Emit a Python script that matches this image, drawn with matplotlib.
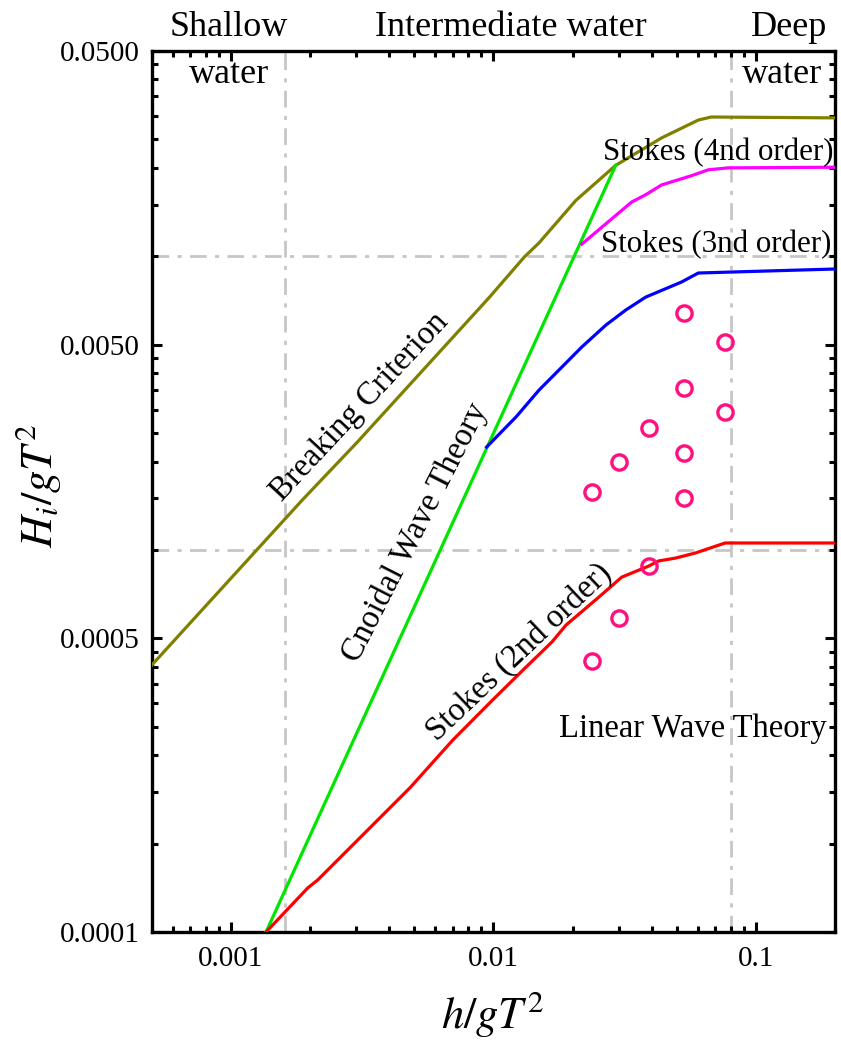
import matplotlib
matplotlib.use('Agg')
import matplotlib.pyplot as plt
from matplotlib.ticker import FixedLocator, LogLocator, NullFormatter

plt.rcParams['font.family'] = ['Liberation Serif', 'DejaVu Serif']
plt.rcParams['mathtext.fontset'] = 'stix'

# --- data (h/gT^2, H/gT^2) ---
breaking_x = [0.0005, 0.00187, 0.00303, 0.00966, 0.0131, 0.0149, 0.0206, 0.0292, 0.0437, 0.0603, 0.0675, 0.2]
breaking_y = [4.06e-4, 1.48e-3, 2.33e-3, 7.26e-3, 9.94e-3, 0.0111, 0.0155, 0.0204, 0.0253, 0.0291, 0.0298, 0.0296]

cnoidal_x = [0.00136, 0.0292]
cnoidal_y = [5.0e-5, 0.0204]

stokes2_x = [0.00136, 0.00196, 0.00214, 0.00311, 0.00481, 0.00699, 0.00991, 0.0133, 0.0167, 0.0189,
             0.0252, 0.0308, 0.0390, 0.0425, 0.0493, 0.0587, 0.0763, 0.0855, 0.2]
stokes2_y = [5.0e-5, 7.06e-5, 7.52e-5, 1.05e-4, 1.55e-4, 2.25e-4, 3.08e-4, 3.99e-4, 4.86e-4, 5.55e-4,
             6.91e-4, 8.08e-4, 8.81e-4, 9.17e-4, 9.38e-4, 9.76e-4, 1.056e-3, 1.056e-3, 1.056e-3]

stokes3_x = [0.00941, 0.0122, 0.0149, 0.0217, 0.0268, 0.0319, 0.0380, 0.0520, 0.0603, 0.2]
stokes3_y = [2.24e-3, 2.84e-3, 3.50e-3, 4.91e-3, 5.83e-3, 6.56e-3, 7.26e-3, 8.17e-3, 8.77e-3, 9.05e-3]

stokes4_x = [0.0217, 0.0336, 0.0380, 0.0437, 0.0567, 0.0658, 0.0783, 0.2]
stokes4_y = [0.0110, 0.0153, 0.0162, 0.0175, 0.0188, 0.0197, 0.0200, 0.0201]

exp_x = [0.0534, 0.0763, 0.0534, 0.0763, 0.0390, 0.0534, 0.0300, 0.0237, 0.0534, 0.0390, 0.0300, 0.0237]
exp_y = [6.41e-3, 5.10e-3, 3.56e-3, 2.95e-3, 2.60e-3, 2.14e-3, 1.99e-3, 1.57e-3, 1.50e-3, 8.81e-4, 5.86e-4, 4.18e-4]

ytick_vals = [5e-5, 5e-4, 5e-3, 5e-2]
ytick_labels = ['0.0001', '0.0005', '0.0050', '0.0500']
xtick_vals = [1e-3, 1e-2, 1e-1]
xtick_labels = ['0.001', '0.01', '0.1']

fig = plt.figure(figsize=(8.41, 10.41), dpi=100)
ax = fig.add_axes([0.1807, 0.1047, 0.8122, 0.8463])
ax.set_xscale('log')
ax.set_yscale('log')
ax.set_xlim(0.0005, 0.2)
ax.set_ylim(5e-5, 5e-2)

# grid lines for the water depth regions
grid_style = dict(color='#c6c6c6', lw=2.0, ls=(0, (6, 3, 1.5, 3)), zorder=1)
ax.axvline(0.0016, **grid_style)
ax.axvline(0.08, **grid_style)
ax.axhline(0.001, **grid_style)
ax.axhline(0.01, **grid_style)

lw = 2.3
ax.plot(breaking_x, breaking_y, color='#808000', lw=lw, zorder=3)
ax.plot(cnoidal_x, cnoidal_y, color='#00e600', lw=lw, zorder=3)
ax.plot(stokes2_x, stokes2_y, color='#ff0000', lw=lw, zorder=3)
ax.plot(stokes3_x, stokes3_y, color='#0000ff', lw=lw, zorder=3)
ax.plot(stokes4_x, stokes4_y, color='#ff00ff', lw=lw, zorder=3)
ax.plot(exp_x, exp_y, ls='none', marker='o', ms=11, mfc='none', mec='#ff1080', mew=2.4, zorder=4)

# axes styling
for s in ax.spines.values():
    s.set_linewidth(2.4)
ax.xaxis.set_major_locator(FixedLocator(xtick_vals))
ax.set_xticklabels(xtick_labels)
ax.xaxis.set_minor_locator(LogLocator(base=10, subs=[2, 3, 4, 5, 6, 7, 8, 9]))
ax.xaxis.set_minor_formatter(NullFormatter())
ax.yaxis.set_major_locator(FixedLocator(ytick_vals))
ax.set_yticklabels(ytick_labels)
ax.yaxis.set_minor_locator(LogLocator(base=10, subs=[1, 1.5, 2, 2.5, 3, 3.5, 4, 4.5]))
ax.yaxis.set_minor_formatter(NullFormatter())
ax.tick_params(which='both', direction='in', top=True, right=True, width=2.2)
ax.tick_params(which='major', length=7.5, labelsize=21)
ax.tick_params(which='minor', length=4)
ax.tick_params(axis='x', which='major', pad=10)
ax.tick_params(axis='y', which='major', pad=9)

# curve labels
tkw = dict(fontsize=23.5, color='black', zorder=5)
ax.text(0.00308, 3.07e-3, 'Breaking Criterion', rotation=47, ha='center', va='center',
        rotation_mode='anchor', **tkw)
ax.text(0.00502, 1.15e-3, 'Cnoidal Wave Theory', rotation=63, ha='center', va='center',
        rotation_mode='anchor', **tkw)
ax.text(0.01254, 4.49e-4, 'Stokes (2nd order)', rotation=43.5, ha='center', va='center',
        rotation_mode='anchor', **tkw)
ax.text(0.0577, 2.31e-4, 'Linear Wave Theory', ha='center', va='baseline', **tkw)
ax.text(0.0261, 0.02126, 'Stokes (4nd order)', ha='left', va='baseline', fontsize=22.3, zorder=5)
ax.text(0.02565, 0.01034, 'Stokes (3nd order)', ha='left', va='baseline', fontsize=22.3, zorder=5)

# water depth region names
fig.text(0.2723, 0.9654, 'Shallow', ha='center', va='baseline', fontsize=26)
fig.text(0.2723, 0.9203, 'water', ha='center', va='baseline', fontsize=26)
fig.text(0.6076, 0.9654, 'Intermediate water', ha='center', va='baseline', fontsize=26)
fig.text(0.938, 0.9654, 'Deep', ha='center', va='baseline', fontsize=26)
fig.text(0.930, 0.9203, 'water', ha='center', va='baseline', fontsize=26)

# axis titles
fig.text(0.586, 0.0125, r'$h/gT^2$', ha='center', va='baseline', fontsize=32)
fig.text(0.045, 0.533, r'$H_i/gT^2$', ha='center', va='center', rotation=90, fontsize=32)

fig.savefig('out.png', dpi=100, facecolor='white')
